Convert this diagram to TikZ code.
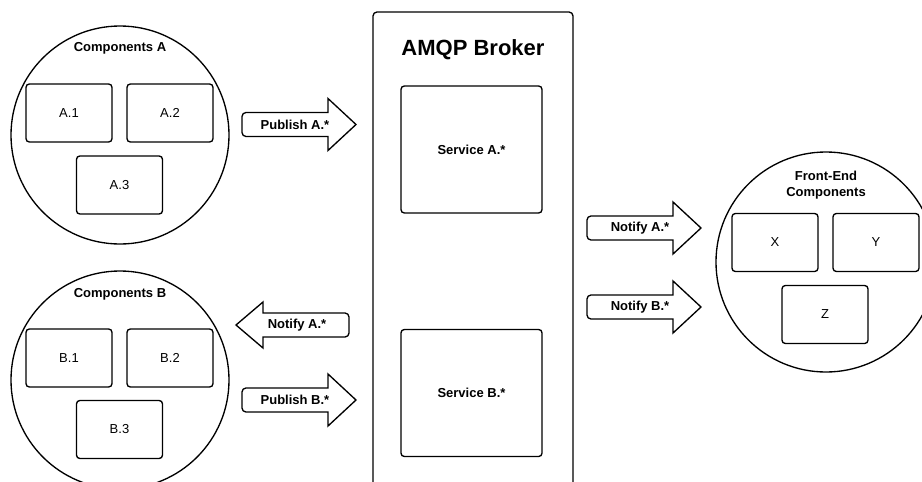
\documentclass[tikz,border=0pt]{standalone}
\usepackage{fontspec}
\setmainfont{Liberation Sans}
\begin{document}
\begin{tikzpicture}[x=0.75pt,y=-0.75pt,
  line width=1pt,
  every node/.style={font=\fontsize{9.75}{11.5}\selectfont, inner sep=0pt, align=center},
  grp/.style={draw, circle, minimum size=163.5pt},
  comp/.style={draw, rounded corners=2.5pt, minimum width=64.5pt, minimum height=43.5pt},
  svc/.style={draw, rounded corners=2.5pt, minimum width=105.75pt, minimum height=95.25pt, font=\bfseries\fontsize{9.75}{11.5}\selectfont},
  lbl/.style={font=\bfseries\fontsize{9.75}{11.5}\selectfont},
  blockarrow/.style={draw, fill=white, line join=miter}]

\useasboundingbox (0,0) rectangle (922,482);
\clip (0,0) rectangle (922,482);

% right-pointing block arrow: tail x, centre y, name, text
\newcommand\rightblock[4]{%
  \draw[blockarrow] ({#1+86},{#2-12}) -- ({#1+86},{#2-26}) -- ({#1+114},#2) -- ({#1+86},{#2+26}) -- ({#1+86},{#2+12})
     [rounded corners=3pt] -- (#1,{#2+12}) -- (#1,{#2-12}) [sharp corners] -- cycle;
  \node[lbl] (#3) at ({#1+53},#2) {#4};}
% left-pointing block arrow: tail x, centre y, name, text
\newcommand\leftblock[4]{%
  \draw[blockarrow] ({#1-86},{#2-12}) -- ({#1-86},{#2-23}) -- ({#1-113},#2) -- ({#1-86},{#2+23}) -- ({#1-86},{#2+12})
     [rounded corners=3pt] -- (#1,{#2+12}) -- (#1,{#2-12}) [sharp corners] -- cycle;
  \node[lbl] (#3) at ({#1-52},#2) {#4};}

% Components A
\node[grp] (ga) at (120,135) {};
\node[lbl] (gal) at (120,48) {Components A};
\node[comp] (a1) at (69,113) {A.1};
\node[comp] (a2) at (170,113) {A.2};
\node[comp] (a3) at (119.5,185) {A.3};

% Components B
\node[grp] (gb) at (120,380) {};
\node[lbl] (gbl) at (120,294) {Components B};
\node[comp] (b1) at (69,358) {B.1};
\node[comp] (b2) at (170,358) {B.2};
\node[comp] (b3) at (119.5,429.5) {B.3};

% AMQP broker
\draw[rounded corners=3pt] (373,520) -- (373,12) -- (573,12) -- (573,520);
\node[font=\bfseries\fontsize{16.5}{19}\selectfont] (broker) at (473,50) {AMQP Broker};
\node[svc] (sa) at (471.5,149.5) {Service A.*};
\node[svc] (sb) at (471.5,393) {Service B.*};

% Front-end components
\node[grp, minimum size=165pt] (gf) at (826,262) {};
\node[lbl] (gfl) at (826,185) {Front-End\\Components};
\node[comp] (x) at (775,242.5) {X};
\node[comp] (y) at (876,242.5) {Y};
\node[comp] (z) at (825,314.5) {Z};

% message flows
\rightblock{242}{124.5}{pa}{Publish A.*}
\leftblock{349}{325}{na}{Notify A.*}
\rightblock{242}{400}{pb}{Publish B.*}
\rightblock{587}{228}{fna}{Notify A.*}
\rightblock{587}{307}{fnb}{Notify B.*}
\end{tikzpicture}
\end{document}
